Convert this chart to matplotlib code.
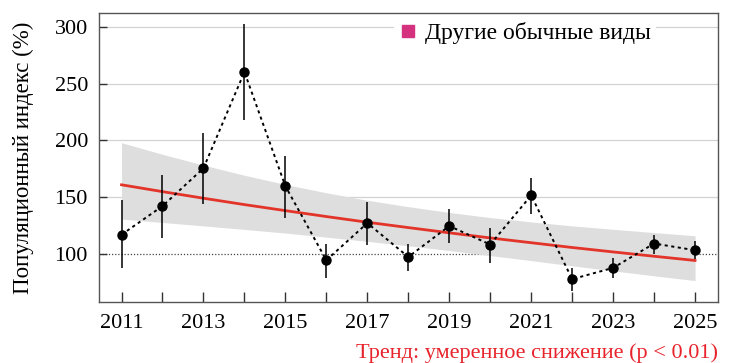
import matplotlib
matplotlib.use("Agg")
import matplotlib.pyplot as plt
from matplotlib.lines import Line2D

plt.rcParams['font.family'] = ['Liberation Serif', 'DejaVu Serif']

years = [2011, 2012, 2013, 2014, 2015, 2016, 2017, 2018,
         2019, 2020, 2021, 2022, 2023, 2024, 2025]
index = [117.2, 142.3, 175.6, 260.2, 159.8, 94.7, 127.4, 97.6,
         124.8, 108.5, 151.7, 78.1, 88.0, 109.4, 103.5]
ci_high = [147.3, 169.2, 206.5, 302.0, 186.7, 109.4, 145.8, 109.4,
           139.4, 123.0, 167.2, 88.0, 96.8, 117.2, 111.6]
ci_low = [87.5, 114.6, 144.4, 218.0, 131.8, 79.3, 108.5, 85.4,
          109.9, 92.4, 135.6, 67.6, 79.3, 100.6, 95.4]
trend = [161.0, 155.0, 149.2, 143.6, 138.3, 133.1, 128.1, 123.4,
         118.8, 114.3, 110.1, 105.9, 102.0, 98.2, 94.5]
trend_high = [198.0, 187.8, 178.3, 169.4, 161.3, 154.0, 147.4, 141.8,
              136.7, 132.2, 128.4, 124.9, 121.9, 119.0, 116.2]
trend_low = [130.9, 127.9, 124.9, 121.8, 118.6, 115.0, 111.3, 107.4,
             103.2, 98.8, 94.4, 89.8, 85.4, 81.0, 76.8]
yticks = [100, 150, 200, 250, 300]
xlabels = [2011, 2013, 2015, 2017, 2019, 2021, 2023, 2025]

fig = plt.figure(figsize=(7.42, 3.63), dpi=100)
ax = fig.add_axes([99 / 742, 1 - 302 / 363, 619 / 742, 289 / 363])

# grid lines
for v in yticks[1:]:
    ax.axhline(v, color='#d2d2d2', lw=0.9, zorder=0)
ax.axhline(100, color='#444444', lw=0.9, ls=(0, (1, 1.5)), zorder=1)

# trend with confidence band
ax.fill_between(years, trend_low, trend_high, color='#dedede', lw=0, zorder=1)
ax.plot(years, trend, color='#e3342a', lw=2.0, zorder=3)

# yearly index with confidence intervals
ax.vlines(years, ci_low, ci_high, color='black', lw=1.1, zorder=4)
ax.plot(years, index, color='black', lw=1.4, ls=(0, (1.6, 1.8)), zorder=4)
ax.plot(years, index, 'o', color='black', ms=6.5, zorder=5)

ax.set_xlim(2010.45, 2025.56)
ax.set_ylim(58, 312)
ax.set_yticks(yticks)
ax.set_xticks(years)
ax.set_xticklabels([str(y) if y in xlabels else '' for y in years])
ax.tick_params(axis='both', direction='in', length=7, width=1,
               color='#333333', labelsize=16, pad=9)
ax.tick_params(axis='y', length=6, pad=8)
for s in ax.spines.values():
    s.set_color('#555555')
    s.set_linewidth(1.0)

ax.set_ylabel('Популяционный индекс (%)', fontsize=16.5, labelpad=15)

handle = Line2D([], [], marker='s', ls='none', color='#d4327f', ms=8)
leg = ax.legend([handle], ['Другие обычные виды'], loc='upper left',
                bbox_to_anchor=(0.458, 1.025), frameon=True, fontsize=17,
                handletextpad=0.3, borderpad=0.2, handlelength=0.8)
leg.get_frame().set_edgecolor('none')
leg.get_frame().set_facecolor('white')
leg.get_frame().set_alpha(1)

fig.text(718 / 742, 1 - 353 / 363, 'Тренд: умеренное снижение (p < 0.01)',
         color='#e8232b', fontsize=16, ha='right', va='center')

fig.savefig('out.png', dpi=100)
